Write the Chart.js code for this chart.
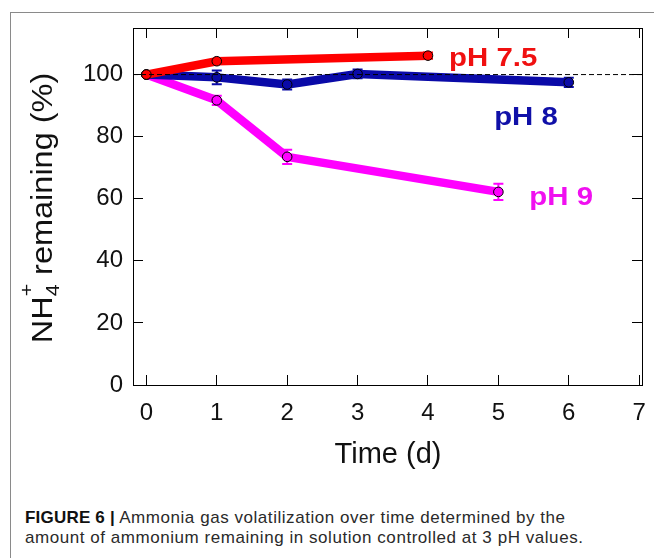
<!DOCTYPE html>
<html>
<head>
<meta charset="utf-8">
<script src="https://cdn.jsdelivr.net/npm/chart.js@4.4.1/dist/chart.umd.min.js"></script>
<style>
  html, body { margin: 0; padding: 0; background: #fff; }
  body { width: 654px; height: 558px; position: relative; overflow: hidden; }
  #frame { position: absolute; left: 10px; top: 12px; width: 700px; height: 600px; border: 1px solid #8a8a8a; }
  #wrap { position: absolute; left: 0; top: 0; width: 654px; height: 480px; }
  #caption {
    position: absolute; left: 25px; top: 508px; width: 620px; white-space: nowrap;
    font-family: "Liberation Sans", Arial, sans-serif; font-size: 17px; line-height: 20px;
    letter-spacing: 0.55px; color: #2a2a2a;
  }
  #caption b { font-weight: bold; color: #111; letter-spacing: 0.2px; }
</style>
</head>
<body>
<div id="frame"></div>
<div id="wrap"><canvas id="chart" width="654" height="480"></canvas></div>
<div id="caption"><b>FIGURE 6 |</b> Ammonia gas volatilization over time determined by the<br>amount of ammonium remaining in solution controlled at 3 pH values.</div>

<script>
/* data */
const xTicks = [0, 1, 2, 3, 4, 5, 6, 7];
const yTicks = [0, 20, 40, 60, 80, 100];

const daysPH75 = [0, 1, 4];
const valsPH75 = [100, 104.3, 106.1];
const errPH75  = [0, 0.5, 1.0];

const daysPH8 = [0, 1, 2, 3, 6];
const valsPH8 = [100, 99.1, 96.8, 100.2, 97.5];
const errPH8  = [0, 2.2, 1.6, 1.4, 1.5];

const daysPH9 = [0, 1, 2, 5];
const valsPH9 = [100, 91.7, 73.5, 62.2];
const errPH9  = [0, 1.5, 2.3, 2.6];

const colors = { red: "#ff0000", blue: "#0a0aa8", magenta: "#ff00ff" };
const FONT = "'Liberation Sans', Arial, sans-serif";

function toPoints(xs, ys) {
  return xs.map((x, i) => ({ x: x, y: ys[i] }));
}

function series(label, xs, ys, errs, color) {
  return {
    label,
    data: toPoints(xs, ys),
    errors: errs,
    borderColor: color,
    backgroundColor: color,
    borderWidth: 8.5,
    borderCapStyle: "round",
    borderJoinStyle: "round",
    pointRadius: 4.8,
    pointBackgroundColor: color,
    pointBorderColor: "#000",
    pointBorderWidth: 1,
    tension: 0
  };
}

// drop the automatic edge padding Chart.js adds for end labels
function noPad(s) {
  s.paddingLeft = 0; s.paddingRight = 0; s.paddingTop = 0; s.paddingBottom = 0;
}

/* error bars, reference line, series labels, axis titles */
const extras = {
  id: "extras",
  beforeDatasetsDraw(chart) {
    const { ctx } = chart;
    const xs = chart.scales.x, ys = chart.scales.y;
    chart.data.datasets.forEach(ds => {
      ds.data.forEach((p, i) => {
        const e = ds.errors[i];
        if (!e) return;
        const px = xs.getPixelForValue(p.x);
        const top = ys.getPixelForValue(p.y + e);
        const bot = ys.getPixelForValue(p.y - e);
        ctx.save();
        ctx.strokeStyle = ds.borderColor;
        ctx.lineWidth = 2;
        ctx.beginPath();
        ctx.moveTo(px, top); ctx.lineTo(px, bot);
        ctx.moveTo(px - 5, top); ctx.lineTo(px + 5, top);
        ctx.moveTo(px - 5, bot); ctx.lineTo(px + 5, bot);
        ctx.stroke();
        ctx.restore();
      });
    });
  },
  afterDatasetsDraw(chart) {
    const { ctx, chartArea } = chart;
    const xs = chart.scales.x, ys = chart.scales.y;

    // dashed 100 % line
    const y100 = ys.getPixelForValue(100);
    ctx.save();
    ctx.strokeStyle = "#000";
    ctx.lineWidth = 1;
    ctx.setLineDash([5, 3]);
    ctx.beginPath();
    ctx.moveTo(chartArea.left, y100);
    ctx.lineTo(chartArea.right, y100);
    ctx.stroke();
    ctx.restore();

    // series labels
    const tags = [
      { text: "pH 7.5", x: 4.3, y: 102.7, color: "#f01010" },
      { text: "pH 8", x: 4.94, y: 83.6, color: "#1010a8" },
      { text: "pH 9", x: 5.44, y: 58.1, color: "#f010f0" }
    ];
    tags.forEach(t => {
      ctx.save();
      ctx.font = "bold 26px " + FONT;
      ctx.textAlign = "left";
      ctx.textBaseline = "alphabetic";
      ctx.fillStyle = t.color;
      ctx.translate(xs.getPixelForValue(t.x), ys.getPixelForValue(t.y));
      ctx.scale(1.13, 1);
      ctx.fillText(t.text, 0, 0);
      ctx.restore();
    });

    // y axis title with sub/superscript
    ctx.save();
    ctx.fillStyle = "#111";
    ctx.translate(52, 208);
    ctx.rotate(-Math.PI / 2);
    ctx.scale(1.12, 1);
    ctx.textBaseline = "alphabetic";
    ctx.textAlign = "left";
    const big = "29px " + FONT, small = "19px " + FONT;
    ctx.font = big;
    const wNH = ctx.measureText("NH").width;
    const wRest = ctx.measureText(" remaining (%)").width;
    ctx.font = small;
    const wSub = Math.max(ctx.measureText("4").width, ctx.measureText("+").width);
    const total = wNH + wSub + wRest;
    let cx = -total / 2;
    ctx.font = big;
    ctx.fillText("NH", cx, 0);
    cx += wNH;
    ctx.font = small;
    ctx.fillText("4", cx, 7);
    ctx.fillText("+", cx, -19);
    cx += wSub;
    ctx.font = big;
    ctx.fillText(" remaining (%)", cx, 0);
    ctx.restore();

    // x axis title
    ctx.save();
    ctx.fillStyle = "#111";
    ctx.font = "29px " + FONT;
    ctx.textAlign = "center";
    ctx.textBaseline = "alphabetic";
    ctx.fillText("Time (d)", 388, 463);
    ctx.restore();
  }
};

const tickGrid = {
  drawOnChartArea: false,
  drawTicks: true,
  tickLength: -10,
  color: "#000",
  lineWidth: 1
};
const axisBorder = { display: true, color: "#000", width: 1 };

new Chart(document.getElementById("chart"), {
  type: "line",
  data: {
    datasets: [
      series("pH 7.5", daysPH75, valsPH75, errPH75, colors.red),
      series("pH 8", daysPH8, valsPH8, errPH8, colors.blue),
      series("pH 9", daysPH9, valsPH9, errPH9, colors.magenta)
    ]
  },
  options: {
    responsive: false,
    animation: false,
    layout: { padding: { left: 0, top: 28, right: 12, bottom: 0 } },
    plugins: { legend: { display: false }, tooltip: { enabled: false } },
    scales: {
      x: {
        type: "linear", position: "bottom", min: -0.19, max: 7.04,
        afterBuildTicks: s => { s.ticks = xTicks.map(v => ({ value: v })); },
        afterFit: s => { s.height = 95; noPad(s); },
        grid: tickGrid, border: axisBorder,
        ticks: { color: "#111", padding: 24, maxRotation: 0, font: { family: FONT, size: 24 } }
      },
      x2: {
        type: "linear", position: "top", min: -0.19, max: 7.04,
        afterBuildTicks: s => { s.ticks = xTicks.map(v => ({ value: v })); },
        afterFit: s => { s.height = 0; noPad(s); },
        grid: tickGrid, border: axisBorder,
        ticks: { display: false }
      },
      y: {
        type: "linear", position: "left", min: 0, max: 115,
        afterBuildTicks: s => { s.ticks = yTicks.map(v => ({ value: v })); },
        afterFit: s => { s.width = 133; noPad(s); },
        grid: tickGrid, border: axisBorder,
        ticks: { color: "#111", padding: 20, font: { family: FONT, size: 24 } }
      },
      y2: {
        type: "linear", position: "right", min: 0, max: 115,
        afterBuildTicks: s => { s.ticks = yTicks.map(v => ({ value: v })); },
        afterFit: s => { s.width = 0; noPad(s); },
        grid: tickGrid, border: axisBorder,
        ticks: { display: false }
      }
    }
  },
  plugins: [extras]
});
</script>
</body>
</html>
